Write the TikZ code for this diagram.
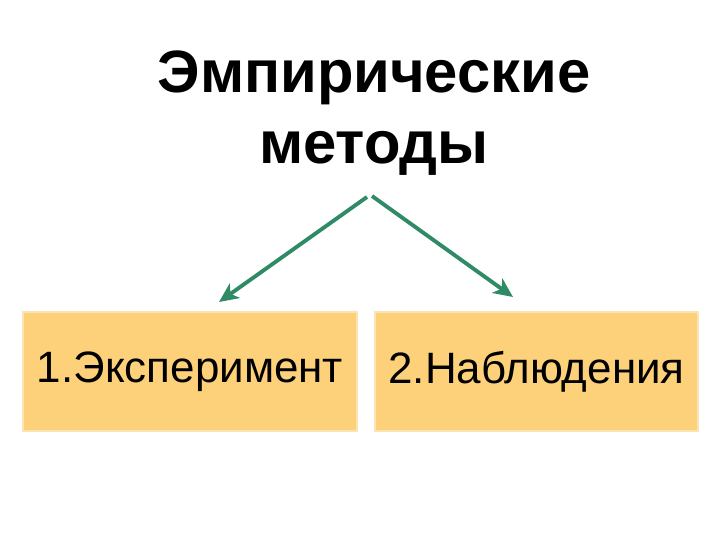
\documentclass[tikz,border=0pt]{standalone}
\usepackage{fontspec}
\setmainfont{Liberation Sans}
\usetikzlibrary{arrows.meta}
\definecolor{boxfill}{HTML}{FDD07A}
\definecolor{boxline}{HTML}{FCE3B2}
\definecolor{arrowgreen}{HTML}{2F8A66}
\tikzstyle{methodbox} = [rectangle, fill=boxfill, draw=boxline, line width=1.4pt, inner sep=0pt, font=\fontsize{25}{30}\selectfont]
\tikzstyle{branch} = [arrowgreen, line width=2.2pt, -{Stealth[length=11pt,width=10pt,inset=3pt]}]

\begin{document}
\begin{tikzpicture}[x=0.02cm,y=-0.02cm]
    \useasboundingbox (0,0) rectangle (720,540);
    % title
    \node (title) at (374,113) [align=center, font=\fontsize{34}{40}\selectfont\bfseries] {Эмпирические\\методы};
    % boxes
    \node (exp) at (190,371.5) [methodbox, minimum width=334*0.02cm, minimum height=119*0.02cm] {1.Эксперимент};
    \node (obs) at (536.5,371.5) [methodbox, minimum width=323*0.02cm, minimum height=119*0.02cm] {2.Наблюдения};
    % arrows
    \coordinate (ls) at (367,197);
    \coordinate (le) at (219,302);
    \coordinate (rs) at (372,196);
    \coordinate (re) at (513,297);
    \draw [branch] (ls) -- (le);
    \draw [branch] (rs) -- (re);
\end{tikzpicture}
\end{document}
